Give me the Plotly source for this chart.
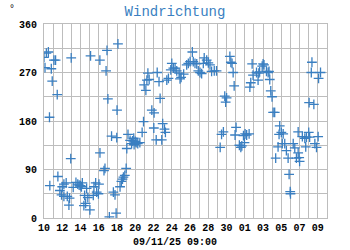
import pandas as pd
import plotly.graph_objects as go

start_date = "2025-10-10"
end_date = "2025-11-10"

# time of each reading, in days after start_date
day_offsets = [
    0.0, 0.26, 0.48, 0.11, 0.8, 1.09, 1.27, 0.9, 1.45, 0.6,
    0.64, 1.52, 1.74, 1.92, 2.0, 2.18, 2.18, 2.43, 2.55, 2.8, 2.73, 2.93, 2.98,
    3.2, 3.5, 3.7, 3.85, 4.0, 4.2, 4.1, 4.37, 4.45, 4.56, 4.67, 4.8, 5.03, 5.1,
    5.4, 5.47, 5.66, 5.77, 5.96, 6.02, 6.12, 6.13, 6.57, 6.68, 6.8, 6.9, 7.0,
    7.16, 7.4, 7.6, 7.78, 7.9, 7.97, 8.0, 8.1, 8.33, 8.48, 8.6, 8.7, 8.85, 9.0,
    9.07, 9.2, 9.43, 9.6, 9.7, 9.83, 9.87, 10.0, 10.1, 10.27, 10.5, 10.75, 10.9,
    10.97, 11.16, 11.27, 11.38, 11.52, 11.81, 12.06, 12.03, 12.29, 12.4, 12.6,
    12.72, 12.9, 13.0, 13.2, 13.3, 13.45, 13.63, 13.89, 14.0, 14.17, 14.36,
    14.54, 14.8, 14.9, 15.02,
    15.3, 15.63, 15.81, 16.0, 16.25, 16.35, 16.54, 16.73, 16.9, 17.09, 17.27,
    17.45, 17.55, 17.82, 18.0, 18.18, 18.36, 18.65, 18.9,
    19.3, 19.45, 19.65, 19.8, 19.9, 20.0, 20.36, 20.47, 20.6, 20.72, 20.83,
    20.93, 21.04, 21.4, 21.56, 21.67, 21.85, 21.96, 22.03, 22.2, 22.47, 22.55,
    22.65, 22.8, 22.9,
    23.28, 23.45, 23.53, 23.62, 23.9, 24.0, 24.1, 24.37, 24.55, 24.65, 24.73,
    24.84, 24.98, 25.1, 25.27, 25.38, 25.64, 25.75, 25.82, 26.0, 26.1, 26.2,
    26.37, 26.55, 26.74, 26.85, 26.97, 27.0, 27.3, 27.47, 27.65, 27.84, 27.84,
    27.95, 28.0, 28.3, 28.57, 28.67, 28.75, 29.0, 29.04, 29.1, 29.35, 29.28,
    29.56, 29.67, 29.85, 30.03, 30.08, 30.29,
]

# wind direction in degrees
direction = [
    298, 306, 308, 279, 277, 293, 293, 254, 229, 187,
    60, 77, 51, 43, 58, 63, 40, 65, 40, 37, 24, 110, 297,
    57, 66, 63, 61, 60, 65, 58, 23, 42, 27, 55, 38, 15, 301,
    42, 58, 65, 48, 45, 63, 293, 121, 88, 92, 273, 311, 221,
    2, 152, 48, 43, 9, 149, 200, 323, 58, 68, 72, 76, 79, 92,
    129, 155, 144, 138, 143, 148, 136, 142, 140, 138, 140, 159, 179,
    247, 237, 256, 269, 257, 200, 195, 167, 145, 270, 253,
    222, 145, 175, 165, 159, 256, 259, 275, 287, 278, 278,
    273, 269, 258, 261,
    267, 284, 287, 290, 308, 290, 287, 286, 273, 270, 268,
    287, 297, 293, 288, 284, 272, 273, 273,
    131, 155, 160, 226, 215, 223, 300, 289, 287, 270, 245,
    154, 168, 135, 131, 134, 153, 140, 156, 154, 156, 243,
    251, 286, 265,
    270, 256, 269, 271, 282, 286, 284, 272, 270, 272, 257,
    236, 225, 196, 196, 111, 132, 155, 171, 159, 138, 156,
    138, 125, 111, 81, 49, 45, 138, 130, 111, 160, 121,
    112, 105, 151, 148, 132, 150, 159, 214, 150, 289, 270,
    211, 138, 131, 151, 259, 270,
]

y_ticks = [0, 90, 180, 270, 360]
title_text = "Windrichtung"
x_label = "09/11/25 09:00"
unit_label = "°"

times = pd.Timestamp(start_date) + pd.to_timedelta(day_offsets, unit="D")

blue = "#3a7fc1"
grid = "#bdbdbd"
mono = "Liberation Mono, Courier New, monospace"

fig = go.Figure(
    go.Scatter(
        x=times,
        y=direction,
        mode="markers",
        marker=dict(symbol="cross-thin", size=7, line=dict(width=1.3, color=blue), color=blue),
        hoverinfo="x+y",
    )
)

day_ms = 86400000
fig.update_layout(
    width=350,
    height=250,
    margin=dict(l=44, r=23, t=24, b=32),
    paper_bgcolor="white",
    plot_bgcolor="white",
    showlegend=False,
    title=dict(
        text=title_text,
        x=0.5,
        xref="container",
        xanchor="center",
        y=0.955,
        yref="container",
        yanchor="middle",
        font=dict(family=mono, size=14, color=blue),
    ),
    font=dict(family=mono, size=10, color="black"),
)

fig.update_xaxes(
    type="date",
    range=[start_date, end_date],
    tick0=start_date,
    dtick=2 * day_ms,
    tickformat="%d",
    tickfont=dict(family=mono, size=10, color="black", weight="bold"),
    showgrid=True,
    gridcolor=grid,
    gridwidth=1,
    minor=dict(dtick=day_ms, tick0=start_date, showgrid=True, gridcolor=grid, gridwidth=1),
    showline=True,
    linecolor=grid,
    linewidth=1,
    mirror=True,
    zeroline=False,
    ticks="",
)

fig.update_yaxes(
    range=[0, 360],
    tickvals=y_ticks,
    tickfont=dict(family=mono, size=10, color="black", weight="bold"),
    showgrid=True,
    gridcolor=grid,
    gridwidth=1,
    minor=dict(dtick=45, tick0=0, showgrid=True, gridcolor=grid, gridwidth=1),
    showline=True,
    linecolor=grid,
    linewidth=1,
    mirror=True,
    zeroline=False,
    ticks="",
    ticklabelstandoff=4,
)

fig.add_annotation(
    text=x_label,
    xref="paper",
    yref="paper",
    x=(175 - 44) / (350 - 44 - 23),
    y=-24 / 194,
    xanchor="center",
    yanchor="middle",
    showarrow=False,
    font=dict(family=mono, size=10, color="black", weight="bold"),
)

fig.add_annotation(
    text=unit_label,
    xref="paper",
    yref="paper",
    x=-32 / 283,
    y=1 + 15 / 194,
    xanchor="center",
    yanchor="middle",
    showarrow=False,
    font=dict(family=mono, size=10, color="black"),
)

fig.write_html("out.html")
